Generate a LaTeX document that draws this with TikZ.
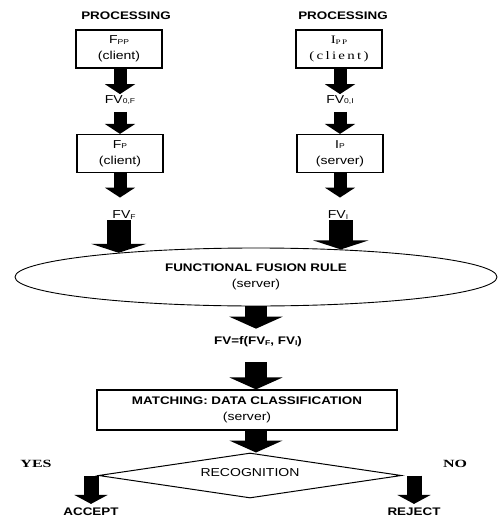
\documentclass[tikz,border=0pt]{standalone}
\usepackage{fontspec}
\setmainfont[FakeStretch=1.22]{Liberation Sans}
\newfontfamily\timeswide[FakeStretch=1.3,LetterSpace=20]{Liberation Serif}
\newfontfamily\timesyn[FakeStretch=1.45]{Liberation Serif}
\usetikzlibrary{arrows.meta,shapes.geometric}
\newcommand\lw[1]{\raisebox{-0.6pt}{\fontsize{7}{7}\selectfont #1}}
\tikzset{
  box/.style={draw,line width=1.2pt,minimum width=86pt,minimum height=38pt,align=center,inner sep=1pt},
  lbl/.style={inner sep=1pt},
  bold/.style={inner sep=1pt,font=\fontsize{11}{13}\selectfont\bfseries},
  yn/.style={inner sep=1pt,font=\fontsize{11}{13}\selectfont\timesyn\bfseries},
  flow/.style={line width=13pt,-{Triangle[width=30pt,length=10pt]}},
  bigflow/.style={line width=24pt,-{Triangle[width=55pt,length=9pt]}},
  midflow/.style={line width=22pt,-{Triangle[width=53pt,length=12pt]}},
  sideflow/.style={line width=15pt,-{Triangle[width=33pt,length=9pt]}}
}
\begin{document}
\begin{tikzpicture}[x=1pt,y=1pt,font=\fontsize{11.5}{16}\selectfont]
  \useasboundingbox (0,0) rectangle (498,-519);
  % two processing columns
  \node[bold] (procl) at (126,-16) {PROCESSING};
  \node[bold] (procr) at (343,-16) {PROCESSING};
  \node[box] (fpp) at (119,-49) {F\lw{PP}\\(client)};
  \node[box,font=\fontsize{11.5}{16}\selectfont\timeswide] (ipp) at (339,-49) {I\lw{PP}\\(client)};
  \node[lbl] (fv0f) at (120,-100) {FV\lw{0,F}};
  \node[lbl] (fv0i) at (340,-100) {FV\lw{0,I}};
  \node[box] (fp) at (120,-153.5) {F\lw{P}\\(client)};
  \node[box] (ip) at (340,-153.5) {I\lw{P}\\(server)};
  \node[lbl] (fvf) at (124,-215) {FV\lw{F}};
  \node[lbl] (fvi) at (338,-215) {FV\lw{I}};
  % fusion and matching
  \node[draw,ellipse,line width=0.9pt,minimum width=482pt,minimum height=58pt,align=center,inner sep=0pt] (fusion) at (256,-277)
    {\textbf{\fontsize{11}{16}\selectfont FUNCTIONAL FUSION RULE}\\(server)};
  \node[bold] (fv) at (258,-342) {FV=f(FV\lw{F}, FV\lw{I})};
  \node[box,minimum width=300pt,minimum height=40pt] (match) at (247,-410)
    {\textbf{\fontsize{11}{16}\selectfont MATCHING: DATA CLASSIFICATION}\\(server)};
  \node[draw,diamond,aspect=6.73,line width=1pt,minimum width=303pt,minimum height=45pt,inner sep=0pt] (recog) at (250,-475.5) {};
  \node[lbl] (recogtxt) at (250,-473) {RECOGNITION};
  \node[yn] (yes) at (36,-464) {YES};
  \node[yn] (no) at (455,-464) {NO};
  \node[bold] (accept) at (91,-512) {ACCEPT};
  \node[bold] (reject) at (414,-512) {REJECT};
  % arrows
  \draw[flow] (fv0f |- fpp.south) -- (fv0f);
  \draw[flow] (fv0i |- ipp.south) -- (fv0i);
  \draw[flow,shorten <=6pt] (fv0f) -- (fp);
  \draw[flow,shorten <=6pt] (fv0i) -- (ip);
  \draw[flow,shorten >=12pt] (fp) -- (fp |- fvf.north);
  \draw[flow,shorten >=12pt] (ip) -- (ip |- fvi.north);
  \draw[bigflow] (fvf.south -| fusion.170) -- (fusion.170);
  \draw[bigflow] (fvi.south -| fusion.18) -- (fusion.18);
  \draw[midflow,shorten >=7pt] (fusion.south) -- (fusion.south |- fv.north);
  \draw[midflow,shorten <=14pt] (fusion.south |- fv.south) -- (fusion.south |- match.north);
  \draw[midflow] (fusion.south |- match.south) -- (fusion.south |- recog.north);
  \draw[sideflow,shorten >=3pt] (accept |- recog.west) -- (accept.north);
  \draw[sideflow,shorten >=3pt] (reject |- recog.east) -- (reject.north);
\end{tikzpicture}
\end{document}
